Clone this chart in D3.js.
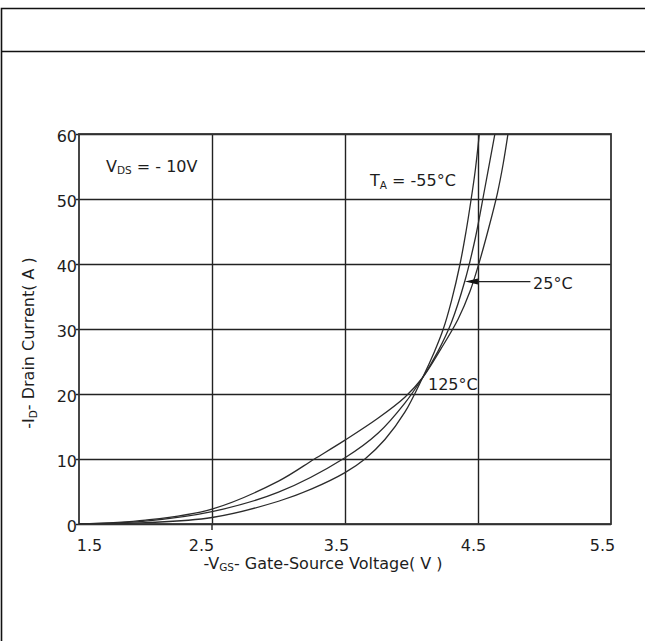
<!DOCTYPE html>
<html>
<head>
<meta charset="utf-8">
<script src="https://cdn.jsdelivr.net/npm/d3@7"></script>
<style>
  body{margin:0;background:#fff}
  svg{display:block}
  text{font-family:"DejaVu Sans",sans-serif;fill:#1d1d1d}
</style>
</head>
<body>
<svg id="chart" width="645" height="641"></svg>
<script>
/* ----- data -------------------------------------------------- */
const vgs125 = [1.5, 2.0, 2.5, 3.0, 3.27, 3.5, 3.75, 3.95, 4.083, 4.22, 4.35, 4.44, 4.51, 4.58, 4.645, 4.69, 4.74];
const id125  = [0,   0.6, 2.3, 6.6, 10,   12.9, 16.3, 19.5, 22.5,  26.9, 31.5, 35.8, 40.3, 45.5, 50.8,  55.5, 62];

const vgs25  = [1.5, 2.0,  2.5, 3.0, 3.5,  3.75, 3.95, 4.083, 4.2,  4.3, 4.4,  4.48, 4.55, 4.627, 4.645];
const id25   = [0,   0.45, 1.9, 4.9, 10.2, 14.0, 18.6, 22.5,  26.6, 31,  37.3, 44,   51.5, 60,    62];

const vgs55  = [1.5, 2.0, 2.5, 3.0, 3.25, 3.5, 3.65, 3.8,  3.95, 4.083, 4.17, 4.239, 4.3,  4.365, 4.41, 4.445, 4.48, 4.52];
const id55   = [0,   0.2, 1.0, 3.5, 5.4,  7.9, 10.0, 13.0, 17.2, 22.5,  26.4, 30,    34.3, 40,    45,   49.5,  54.5, 62];

const xTicks = [1.5, 2.5, 3.5, 4.5, 5.5];
const xGrid  = [2.5, 3.5, 4.5];
const yTicks = [0, 10, 20, 30, 40, 50, 60];

const zip = (xs, ys) => xs.map((v, i) => [v, ys[i]]);
const curves = [zip(vgs125, id125), zip(vgs25, id25), zip(vgs55, id55)];

/* ----- SVG setup -------------------------------------------- */
const svg = d3.select('#chart'),
      M   = {left:79, top:134},
      PW  = 532,
      PH  = 390,
      g   = svg.append('g').attr('transform', `translate(${M.left},${M.top})`);

const x = d3.scaleLinear().domain([1.5, 5.5]).range([0, PW]);
const y = d3.scaleLinear().domain([0, 60]).range([PH, 0]);

/* outer table frame */
svg.append('path')
  .attr('d', 'M1.5,641V8.5H645M1.5,51.5H645')
  .attr('fill', 'none').attr('stroke', '#111').attr('stroke-width', 1.6);

/* ----- grid & axes ------------------------------------------ */
const yAx = g.append('g')
  .attr('transform', `translate(${PW},0)`)
  .call(d3.axisLeft(y).tickValues(yTicks).tickSize(PW + 3).tickPadding(-1));
yAx.select('.domain').remove();
yAx.selectAll('line').attr('stroke', '#222').attr('stroke-width', 1.4);
yAx.selectAll('text')
  .attr('dy', '0.45em')
  .style('font-size', '16px').style('font-family', '"DejaVu Sans",sans-serif')
  .attr('fill', '#1d1d1d');

const xGridAx = g.append('g')
  .attr('transform', `translate(0,${PH})`)
  .call(d3.axisBottom(x).tickValues(xGrid).tickSize(-PH).tickFormat(''));
xGridAx.select('.domain').remove();
xGridAx.selectAll('line').attr('stroke', '#222').attr('stroke-width', 1.4);
/* the 2.5 V line pokes a little below the axis in the original */
xGridAx.append('line')
  .attr('x1', x(2.5)).attr('x2', x(2.5)).attr('y1', 0).attr('y2', 6)
  .attr('stroke', '#222').attr('stroke-width', 1.4);

const xLabelNudge = [10, -11, -9, -5, -9];
const xAx = g.append('g')
  .attr('transform', `translate(0,${PH})`)
  .call(d3.axisBottom(x).tickValues(xTicks).tickSize(0).tickPadding(16)
        .tickFormat(d3.format('.1f')));
xAx.select('.domain').remove();
xAx.selectAll('text')
  .attr('dx', (d, i) => xLabelNudge[i])
  .style('font-size', '16px').style('font-family', '"DejaVu Sans",sans-serif')
  .attr('fill', '#1d1d1d');

/* plot border */
g.append('rect')
  .attr('width', PW).attr('height', PH)
  .attr('fill', 'none').attr('stroke', '#333').attr('stroke-width', 1.8);

/* ----- curves ----------------------------------------------- */
g.append('clipPath').attr('id', 'clip')
  .append('rect').attr('width', PW).attr('height', PH);

const line = d3.line()
  .x(d => x(d[0])).y(d => y(d[1]))
  .curve(d3.curveCatmullRom.alpha(0.5));

g.append('g').attr('clip-path', 'url(#clip)')
  .selectAll('path').data(curves).join('path')
    .attr('d', line)
    .attr('fill', 'none').attr('stroke', '#2b2b2b').attr('stroke-width', 1.3);

/* ----- annotations ------------------------------------------ */
function label(px, py, parts){
  const t = g.append('text').attr('x', px).attr('y', py).style('font-size', '16px');
  let shift = 0;
  parts.forEach(([s, sub]) => {
    const ts = t.append('tspan').text(s);
    if (sub) { ts.style('font-size', '10.5px').attr('dy', sub); shift = sub; }
    else if (shift) { ts.attr('dy', -shift); shift = 0; }
  });
  return t;
}

label(x(1.703), y(54.2), [['V'], ['DS', 2], [' = - 10V']]);
label(x(3.688), y(52.0), [['T'], ['A', 3], [' = -55°C']]);
label(x(4.124), y(20.6), [['125°C']]);
label(x(4.914), y(36.2), [['25°C']]);

/* arrow to 25°C curve */
const tipX = x(4.402), tipY = y(37.3);
g.append('line')
  .attr('x1', tipX + 10).attr('x2', x(4.894))
  .attr('y1', tipY).attr('y2', tipY)
  .attr('stroke', '#222').attr('stroke-width', 1.2);
g.append('path')
  .attr('d', `M${tipX},${tipY}l13,-3v6z`)
  .attr('fill', '#111');

/* ----- axis titles ------------------------------------------ */
const xt = svg.append('text')
  .attr('x', 323).attr('y', 569).attr('text-anchor', 'middle')
  .style('font-size', '16px');
xt.append('tspan').text('-V');
xt.append('tspan').text('GS').style('font-size', '10.5px').attr('dy', 2);
xt.append('tspan').text('- Gate-Source Voltage( V )').attr('dy', -2);

const yt = svg.append('text')
  .attr('transform', 'translate(34,343) rotate(-90)')
  .attr('text-anchor', 'middle')
  .style('font-size', '16px');
yt.append('tspan').text('-I');
yt.append('tspan').text('D').style('font-size', '10.5px').attr('dy', 3);
yt.append('tspan').text('- Drain Current( A )').attr('dy', -3);
</script>
</body>
</html>
